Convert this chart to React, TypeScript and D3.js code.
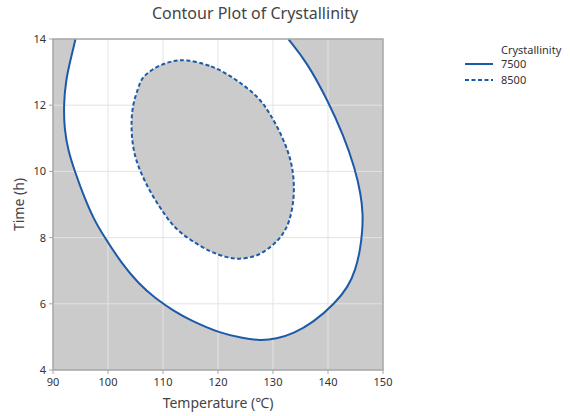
import React from "react";
import * as d3 from "d3";

const title = "Contour Plot of Crystallinity";
const xLabel = "Temperature (℃)";
const yLabel = "Time (h)";
const legendTitle = "Crystallinity";
const levels = ["7500", "8500"];
const xTicks = [90, 100, 110, 120, 130, 140, 150];
const yTicks = [4, 6, 8, 10, 12, 14];

// 7500 contour (open, both ends on top edge): [temperature, time]
const contour7500: [number, number][] = [
  [94.1, 14.0], [93.09, 13.31], [92.31, 12.71], [91.95, 12.01], [92.05, 11.3],
  [92.78, 10.6], [94.0, 9.99], [95.51, 9.29], [97.33, 8.58], [99.33, 8.02],
  [102.49, 7.22], [105.51, 6.62], [108.55, 6.17], [112.18, 5.76], [114.9, 5.51],
  [120.36, 5.11], [124.6, 4.96], [127.6, 4.89], [130.64, 4.94], [133.69, 5.1],
  [137.33, 5.44], [141.27, 6.01], [143.69, 6.52], [145.0, 7.02], [145.85, 7.63],
  [146.25, 8.2], [146.35, 8.7], [146.0, 9.29], [144.91, 10.09], [142.78, 11.1],
  [140.05, 12.11], [136.13, 13.31], [132.78, 14.0],
];

// 8500 contour (closed)
const contour8500: [number, number][] = [
  [114.0, 13.39], [118.85, 13.21], [123.09, 12.81], [127.33, 12.26], [129.45, 11.76],
  [131.87, 11.0], [133.4, 10.29], [133.82, 9.69], [133.82, 9.19], [133.09, 8.48],
  [131.58, 8.03], [129.76, 7.73], [127.04, 7.42], [123.69, 7.34], [121.58, 7.4],
  [118.55, 7.57], [114.9, 7.93], [112.18, 8.28], [110.36, 8.68], [107.95, 9.29],
  [105.82, 9.99], [104.6, 10.6], [104.18, 11.3], [104.42, 12.01], [105.51, 12.51],
  [106.13, 12.86], [109.15, 13.21], [111.87, 13.34],
];

const W = 570;
const H = 416;
const M = { left: 53, right: 383, top: 39, bottom: 370 };
const FONT = "'Noto Sans', 'Open Sans', sans-serif";
const BLUE = "#1c5aa8";
const GRAY = "#cbcbcb";

export default function App() {
  const x = d3.scaleLinear().domain([90, 150]).range([M.left, M.right]);
  const y = d3.scaleLinear().domain([4, 14]).range([M.bottom, M.top]);

  const openLine = d3
    .line<[number, number]>()
    .x((d) => x(d[0]))
    .y((d) => y(d[1]))
    .curve(d3.curveBasis);
  const closedLine = d3
    .line<[number, number]>()
    .x((d) => x(d[0]))
    .y((d) => y(d[1]))
    .curve(d3.curveBasisClosed);

  const outerPath = openLine(contour7500) || "";
  const innerPath = closedLine(contour8500) || "";

  return (
    <svg
      width={W}
      height={H}
      style={{ position: "absolute", left: 0, top: 0, background: "#fff" }}
      fontFamily={FONT}
    >
      <defs>
        <clipPath id="plotClip">
          <rect x={M.left} y={M.top} width={M.right - M.left} height={M.bottom - M.top} />
        </clipPath>
      </defs>
      <text x={255} y={19} textAnchor="middle" fontSize={16} fill="#444">
        {title}
      </text>

      <g clipPath="url(#plotClip)">
        <rect x={M.left} y={M.top} width={M.right - M.left} height={M.bottom - M.top} fill={GRAY} />
        <path d={outerPath + "Z"} fill="#fff" />
        <g stroke="#e3e3e3" strokeWidth={1}>
          {xTicks.slice(1, -1).map((t) => (
            <line key={"gx" + t} x1={x(t)} x2={x(t)} y1={M.top} y2={M.bottom} />
          ))}
          {yTicks.slice(1, -1).map((t) => (
            <line key={"gy" + t} x1={M.left} x2={M.right} y1={y(t)} y2={y(t)} />
          ))}
        </g>
        <path d={innerPath} fill={GRAY} />
        <path d={outerPath} fill="none" stroke={BLUE} strokeWidth={2} />
        <path d={innerPath} fill="none" stroke={BLUE} strokeWidth={2} strokeDasharray="4,2.5" />
      </g>

      <rect
        x={M.left}
        y={M.top}
        width={M.right - M.left}
        height={M.bottom - M.top}
        fill="none"
        stroke="#a6a6a6"
        strokeWidth={1.5}
      />

      {xTicks.map((t) => (
        <g key={"xt" + t}>
          <line x1={x(t)} x2={x(t)} y1={M.bottom} y2={M.bottom + 4} stroke="#a6a6a6" />
          <text x={x(t)} y={386} textAnchor="middle" fontSize={11} fill="#333">
            {t}
          </text>
        </g>
      ))}
      {yTicks.map((t) => (
        <g key={"yt" + t}>
          <line x1={M.left - 4} x2={M.left} y1={y(t)} y2={y(t)} stroke="#a6a6a6" />
          <text x={46} y={y(t) + 4} textAnchor="end" fontSize={11} fill="#333">
            {t}
          </text>
        </g>
      ))}

      <text x={218} y={408} textAnchor="middle" fontSize={14} fill="#444">
        {xLabel}
      </text>
      <text
        transform={`translate(24,${(M.top + M.bottom) / 2}) rotate(-90)`}
        textAnchor="middle"
        fontSize={14}
        fill="#444"
      >
        {yLabel}
      </text>

      <text x={501} y={54} fontSize={11} fill="#333">
        {legendTitle}
      </text>
      <line x1={465} x2={493} y1={64} y2={64} stroke={BLUE} strokeWidth={2} />
      <text x={501} y={68} fontSize={11} fill="#333">
        {levels[0]}
      </text>
      <line x1={465} x2={493} y1={80} y2={80} stroke={BLUE} strokeWidth={2} strokeDasharray="4,2.5" />
      <text x={501} y={84} fontSize={11} fill="#333">
        {levels[1]}
      </text>
    </svg>
  );
}
